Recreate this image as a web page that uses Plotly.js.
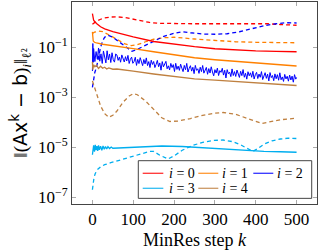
<!DOCTYPE html>
<html>
<head>
<meta charset="utf-8">
<script src="https://cdn.plot.ly/plotly-3.0.1.min.js"></script>
<style>html,body{margin:0;padding:0;background:#fff;}#chart{width:318px;height:250px;}</style>
</head>
<body>
<div id="chart"></div>
<script>
// ---- data (residual norms per MinRes step) ----
var legendLabels = ['<i>i</i> = 0', '<i>i</i> = 1', '<i>i</i> = 2', '<i>i</i> = 3', '<i>i</i> = 4'];
var xTickVals = [0, 100, 200, 300, 400, 500];
var yTickVals = [1e-7, 1e-5, 1e-3, 1e-1];
var yTickText = ['10<sup>−7</sup>', '10<sup>−5</sup>', '10<sup>−3</sup>', '10<sup>−1</sup>'];

// i = 0
var k0s = [0,1,3,5,10,20,30,50,75,100,150,200,250,300,350,400,450,500];
var r0s = [2.19,1.51,1.2,1.1,0.89,0.66,0.54,0.42,0.32,0.26,0.17,0.13,0.105,0.087,0.078,0.072,0.069,0.066];
var k0d = [0,5,10,20,30,45,60,80,100,120,140,160,200,250,300,350,400,430,460,500];
var r0d = [0.83,0.95,1.1,1.32,1.48,1.62,1.64,1.55,1.32,1.1,0.98,0.91,0.87,0.87,0.87,0.88,0.89,0.87,0.81,0.76];

// i = 1
var k1s = [0,1,2,5,10,25,50,75,100,150,200,250,300,350,400,450,500];
var r1s = [0.41,0.25,0.178,0.158,0.148,0.132,0.117,0.102,0.089,0.066,0.05,0.038,0.0316,0.0275,0.0234,0.0204,0.0178];
var k1d = [0,5,15,25,40,60,80,95,110,130,150,175,200,250,300,350,400,450,500];
var r1d = [0.355,0.40,0.44,0.42,0.316,0.2,0.135,0.117,0.126,0.166,0.209,0.24,0.251,0.214,0.186,0.166,0.158,0.155,0.151];

// i = 2
var k2s = [0,1,2,3,6,9,12,15,18,21,24,27,30,33,36,39,42,45,48,51,54,57,
  60,63,66,69,72,75,78,81,84,87,90,93,96,99,102,105,108,111,114,117,
  120,123,126,129,132,135,138,141,144,147,150,153,156,159,162,165,168,171,174,177,
  180,183,186,189,192,195,198,201,204,207,210,213,216,219,222,225,228,231,234,237,
  240,243,246,249,252,255,258,261,264,267,270,273,276,279,282,285,288,291,294,297,
  300,303,306,309,312,315,318,321,324,327,330,333,336,339,342,345,348,351,354,357,
  360,363,366,369,372,375,378,381,384,387,390,393,396,399,402,405,408,411,414,417,
  420,423,426,429,432,435,438,441,444,447,450,453,456,459,462,465,468,471,474,477,
  480,483,486,489,492,495,498,500];
var r2s = [0.0112,0.141,0.025,0.089,0.0268,0.0673,0.0333,0.0936,0.0277,0.0546,0.0225,0.0709,0.0393,0.0237,0.0723,0.0314,0.0538,0.0245,0.0603,0.0317,0.0254,0.0538,
  0.0491,0.0298,0.0403,0.0252,0.0494,0.0330,0.0257,0.0420,0.0281,0.0473,0.0224,0.0331,0.0402,0.0228,0.0269,0.0397,0.0188,0.0327,0.0222,0.0382,
  0.0268,0.0184,0.0324,0.0216,0.0375,0.0185,0.0267,0.0154,0.0303,0.0205,0.0269,0.0154,0.0206,0.0298,0.0167,0.0236,0.0121,0.0267,0.0165,0.0201,
  0.0273,0.0138,0.0181,0.0124,0.0226,0.0154,0.0202,0.0107,0.0228,0.0130,0.0176,0.0119,0.0211,0.0146,0.0106,0.0188,0.0126,0.0226,0.0102,0.0143,
  0.0183,0.0111,0.0158,0.0088,0.0188,0.0119,0.0138,0.0090,0.0159,0.0106,0.0186,0.0092,0.0122,0.0156,0.0083,0.0140,0.0093,0.0165,0.0102,0.0072,
  0.0127,0.0093,0.0146,0.0074,0.0116,0.0099,0.0144,0.0077,0.0120,0.0059,0.0127,0.0087,0.0101,0.0067,0.0136,0.0074,0.0106,0.0068,0.0122,0.0085,
  0.0062,0.0109,0.0073,0.0128,0.0063,0.0091,0.0053,0.0105,0.0072,0.0095,0.0063,0.0109,0.0054,0.0080,0.0099,0.0056,0.0085,0.0063,0.0106,0.0051,
  0.0072,0.0096,0.0057,0.0084,0.0045,0.0097,0.0061,0.0074,0.0046,0.0086,0.0055,0.0080,0.0048,0.0095,0.0050,0.0065,0.0043,0.0082,0.0054,0.0069,
  0.0044,0.0077,0.0049,0.0070,0.0040,0.0080,0.0053,0.0062];
var k2d = [0,3,6,10,15,20,25,30,38,50,65,80,90,97,110,130,150,175,200,220,240,270,300,330,360,390,420,450,475,500];
var r2d = [2.5e-3,5.0e-3,1.0e-2,1.58e-2,3.98e-2,0.1,0.178,0.251,0.302,0.251,0.166,0.107,0.079,0.069,0.083,0.12,0.182,0.275,0.363,0.417,0.38,0.339,0.331,0.347,0.417,0.55,0.724,0.871,0.955,0.933];

// i = 3
var k3s = [0,1,2,3,5,7,9,11,13,15,17,20,23,26,29,32,35,38,42,46,50,60,80,100,130,170,220,270,320,370,420,460,500];
var r3s = [5.0e-6,8.9e-6,5.6e-6,1.2e-5,6.6e-6,1.26e-5,7.6e-6,1.12e-5,7.2e-6,1.2e-5,7.9e-6,1.1e-5,7.6e-6,1.12e-5,8.3e-6,1.07e-5,8.5e-6,1.05e-5,8.9e-6,1.02e-5,9.1e-6,9.3e-6,9.8e-6,1.02e-5,1.07e-5,1.12e-5,1.07e-5,9.5e-6,8.5e-6,7.6e-6,6.9e-6,6.6e-6,6.3e-6];
var k3d = [0,2,4,7,12,20,30,45,60,80,100,120,140,150,165,185,200,220,245,270,295,320,345,365,380,393,405,420,440,460,480,500];
var r3d = [2.0e-7,4.0e-7,6.3e-7,8.9e-7,1.26e-6,1.66e-6,2.0e-6,2.4e-6,2.8e-6,3.5e-6,4.4e-6,5.5e-6,6.8e-6,6.8e-6,4.8e-6,3.4e-6,4.5e-6,7.6e-6,1.17e-5,1.58e-5,1.86e-5,1.95e-5,1.66e-5,1.2e-5,8.9e-6,6.8e-6,8.9e-6,1.32e-5,1.82e-5,2.14e-5,2.3e-5,2.24e-5];

// i = 4
var k4s = [0,1,3,6,10,15,20,25,30,35,40,50,60,75,100,150,200,250,300,350,400,450,500];
var r4s = [2.6e-2,1.26e-2,2.0e-2,1.66e-2,1.9e-2,1.41e-2,1.74e-2,1.45e-2,1.58e-2,1.35e-2,1.48e-2,1.32e-2,1.35e-2,1.23e-2,1.1e-2,8.5e-3,6.6e-3,5.4e-3,4.8e-3,4.3e-3,3.8e-3,3.4e-3,2.95e-3];
var k4d = [0,5,10,20,30,40,50,60,75,90,100,110,130,150,170,190,210,240,270,300,320,350,380,400,415,430,460,500];
var r4d = [4.5e-3,2.5e-3,1.26e-3,4.5e-4,2.2e-4,1.58e-4,1.9e-4,2.8e-4,6.3e-4,1.12e-3,1.38e-3,1.26e-3,7.1e-4,3.2e-4,1.51e-4,1.07e-4,1.12e-4,1.41e-4,1.9e-4,2.3e-4,2.45e-4,2.1e-4,1.41e-4,1.05e-4,8.9e-5,1.0e-4,1.26e-4,1.45e-4];

// ---- styling ----
var colors = ['#ff0000', '#ff8000', '#0000ff', '#00aeef', '#bf8040'];
var solidK = [k0s, k1s, k2s, k3s, k4s];
var solidR = [r0s, r1s, r2s, r3s, r4s];
var dashK = [k0d, k1d, k2d, k3d, k4d];
var dashR = [r0d, r1d, r2d, r3d, r4d];

var traces = [];
for (var i = 0; i < 5; i++) {
  traces.push({
    x: dashK[i], y: dashR[i], type: 'scatter', mode: 'lines',
    name: legendLabels[i] + ' (dashed)',
    line: {color: colors[i], width: 1.3, dash: '4px,3px'},
    showlegend: false, hoverinfo: 'skip'
  });
}
for (var j = 0; j < 5; j++) {
  traces.push({
    x: solidK[j], y: solidR[j], type: 'scatter', mode: 'lines',
    name: legendLabels[j],
    line: {color: colors[j], width: (j === 2 ? 1 : 1.3)},
    showlegend: false
  });
}

// ---- legend box (3 columns x 2 rows) inside the plot, in paper units ----
var legBox = {x0: 0.2706, x1: 0.9784, y0: 0.028, y1: 0.2144};
var legRows = [0.152, 0.0777];
var legColLine = [[0.2886, 0.3727], [0.5155, 0.5971], [0.7400, 0.8216]];
var legColText = [0.3890, 0.6050, 0.8300];

var shapes = [{
  type: 'rect', xref: 'paper', yref: 'paper',
  x0: legBox.x0, x1: legBox.x1, y0: legBox.y0, y1: legBox.y1,
  line: {color: '#444', width: 1}, fillcolor: '#fff', layer: 'above'
}];
var annotations = [];
for (var m = 0; m < 5; m++) {
  var row = Math.floor(m / 3), col = m % 3;
  shapes.push({
    type: 'line', xref: 'paper', yref: 'paper',
    x0: legColLine[col][0], x1: legColLine[col][1], y0: legRows[row], y1: legRows[row],
    line: {color: colors[m], width: 1.3}, opacity: 0.8, layer: 'above'
  });
  annotations.push({
    xref: 'paper', yref: 'paper', x: legColText[col], y: legRows[row],
    xanchor: 'left', yanchor: 'middle', showarrow: false, text: legendLabels[m],
    font: {family: 'Liberation Serif, serif', size: 14, color: '#000'}
  });
}

var serif = 'Liberation Serif, Times New Roman, serif';
var layout = {
  width: 318, height: 250,
  margin: {l: 72, r: 1, t: 2, b: 46},
  paper_bgcolor: '#fff', plot_bgcolor: '#fff',
  font: {family: serif, size: 17, color: '#000'},
  showlegend: false,
  shapes: shapes,
  annotations: annotations,
  xaxis: {
    range: [-50, 550], tickvals: xTickVals, ticks: 'inside', ticklen: 4,
    tickcolor: '#aaa', showline: true, linecolor: '#444', linewidth: 1,
    mirror: 'ticks', showgrid: false, zeroline: false,
    tickfont: {family: serif, size: 17},
    title: {text: 'MinRes step <i>k</i>', font: {family: serif, size: 18}, standoff: 4}
  },
  yaxis: {
    type: 'log', range: [-7.27, 0.81], tickvals: yTickVals, ticktext: yTickText,
    ticks: 'inside', ticklen: 4, tickcolor: '#aaa', showline: true,
    linecolor: '#444', linewidth: 1, mirror: 'ticks', showgrid: false, zeroline: false,
    tickfont: {family: serif, size: 17},
    title: {
      text: '‖(<span style="font-family:DejaVu Sans">Ax<sup>k</sup> − b</span>)<sub><i>i</i></sub>‖<sub>ℓ²</sub>',
      font: {family: serif, size: 19}, standoff: 5
    }
  }
};

Plotly.newPlot('chart', traces, layout, {staticPlot: true, displayModeBar: false});
</script>
</body>
</html>
